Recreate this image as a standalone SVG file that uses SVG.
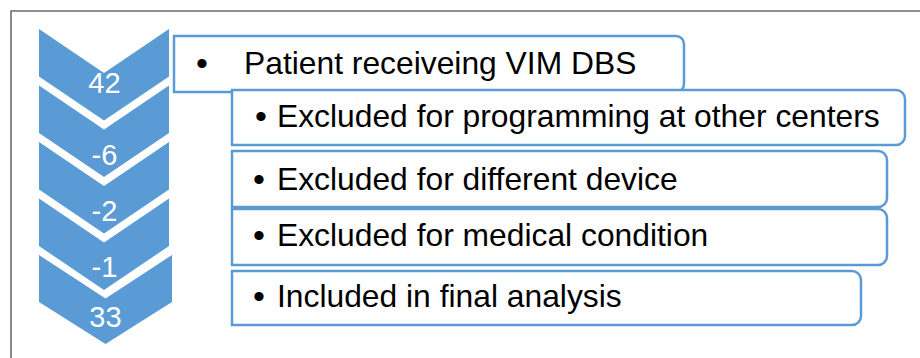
<svg xmlns="http://www.w3.org/2000/svg" width="920" height="358" viewBox="0 0 920 358">
  <style>
    .chev { fill: #5b9bd5; }
    .num { font-family: "Liberation Sans", Arial, sans-serif; font-size: 29px; fill: #ffffff; text-anchor: middle; }
    .box { fill: #ffffff; stroke: #5b9bd5; stroke-width: 2.5; }
    .lbl { font-family: "Liberation Sans", Arial, sans-serif; font-size: 31.8px; fill: #000000; }
    .bul { text-anchor: middle; font-size: 34px; }
  </style>

  <rect x="0" y="0" width="920" height="358" fill="#ffffff"/>
  <!-- outer frame -->
  <path d="M11,358 V11 H920" fill="none" stroke="#6b6b6b" stroke-width="1.6"/>

  <!-- chevron column with counts -->
  <g id="step-42">
    <polygon class="chev" points="39,29 104,73 169,29 169,76.5 104,120.5 39,76.5"/>
    <text class="num" x="104.5" y="93">42</text>
  </g>
  <g id="step-minus6">
    <polygon class="chev" points="39,85.5 104,129.5 169,85.5 169,133 104,177 39,133"/>
    <text class="num" x="104.5" y="165">-6</text>
  </g>
  <g id="step-minus2">
    <polygon class="chev" points="39,142 104,186 169,142 169,189.5 104,233.5 39,189.5"/>
    <text class="num" x="104.5" y="221">-2</text>
  </g>
  <g id="step-minus1">
    <polygon class="chev" points="39,198.5 104,242.5 169,198.5 169,246 104,290 39,246"/>
    <text class="num" x="104.5" y="277">-1</text>
  </g>
  <g id="step-33">
    <polygon class="chev" points="39,255 105.5,298.5 172,255 172,302 105.5,344 39,302"/>
    <text class="num" x="105.5" y="327">33</text>
  </g>

  <!-- description boxes: square left edge, rounded right corners -->
  <g id="box-patients">
    <path class="box" d="M174,36 H676 A8,8 0 0 1 684,44 V84 A8,8 0 0 1 676,92 H174 Z"/>
    <text class="lbl"><tspan class="bul" x="202" y="75">•</tspan><tspan x="244" y="74">Patient receiveing VIM DBS</tspan></text>
  </g>
  <g id="box-other-centers">
    <path class="box" d="M232,90 H896 A9,9 0 0 1 905,99 V136 A9,9 0 0 1 896,145 H232 Z"/>
    <text class="lbl"><tspan class="bul" x="261" y="128">•</tspan><tspan x="277" y="127">Excluded for programming at other centers</tspan></text>
  </g>
  <g id="box-device">
    <path class="box" d="M232,151 H878 A9,9 0 0 1 887,160 V198 A9,9 0 0 1 878,207 H232 Z"/>
    <text class="lbl"><tspan class="bul" x="259" y="191">•</tspan><tspan x="277" y="190">Excluded for different device</tspan></text>
  </g>
  <g id="box-medical">
    <path class="box" d="M232,209 H878 A9,9 0 0 1 887,218 V256 A9,9 0 0 1 878,265 H232 Z"/>
    <text class="lbl"><tspan class="bul" x="259" y="247">•</tspan><tspan x="277" y="246">Excluded for medical condition</tspan></text>
  </g>
  <g id="box-included">
    <path class="box" d="M232,271 H852 A9,9 0 0 1 861,280 V316 A9,9 0 0 1 852,325 H232 Z"/>
    <text class="lbl"><tspan class="bul" x="259" y="308">•</tspan><tspan x="277" y="307">Included in final analysis</tspan></text>
  </g>
</svg>
